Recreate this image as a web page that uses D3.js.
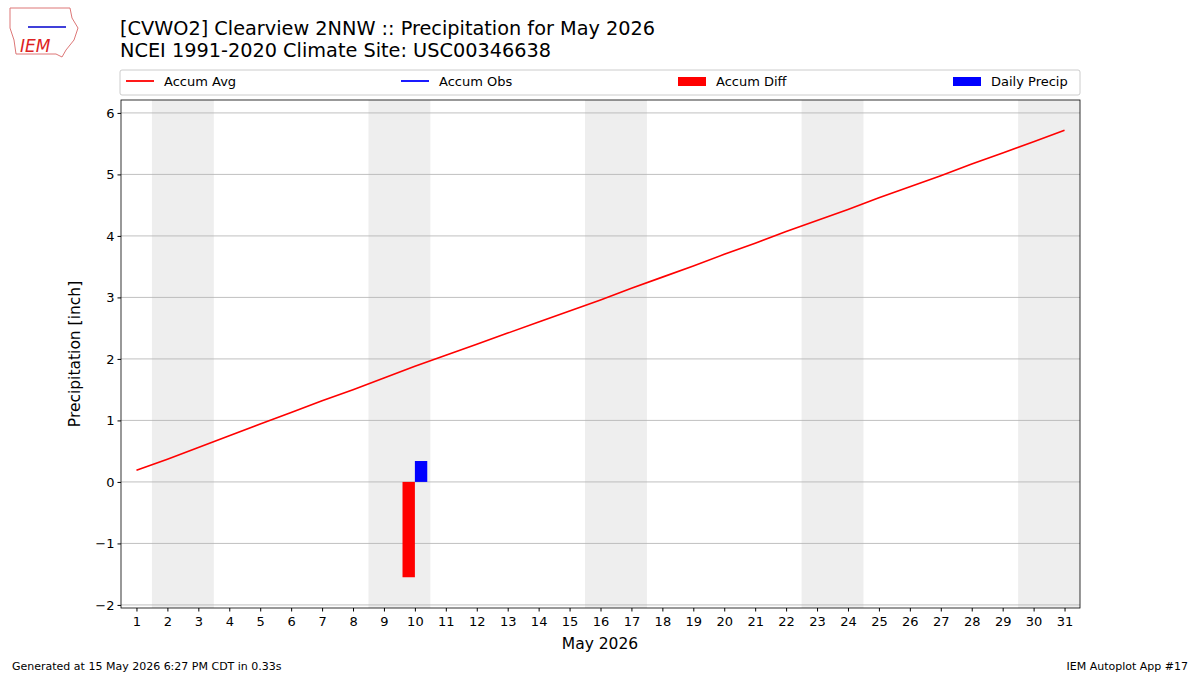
<!DOCTYPE html>
<html><head><meta charset="utf-8">
<script src="https://cdn.jsdelivr.net/npm/d3@7"></script>
<style>body{margin:0;background:#fff}text{font-family:"DejaVu Sans",sans-serif}</style>
</head><body><svg id="c" width="1200" height="675"></svg>
<script>
const days = d3.range(1,32);
const accumAvg = [0.19,0.37,0.56,0.75,0.94,1.13,1.32,1.50,1.69,1.88,2.06,2.24,2.42,2.60,2.78,2.96,3.15,3.33,3.51,3.70,3.88,4.07,4.25,4.43,4.62,4.80,4.98,5.17,5.35,5.53,5.72];
const diffDays = [10], accumDiff = [-1.55];
const precipDays = [10], dailyPrecip = [0.34];
const weekends = [[2,3],[9,10],[16,17],[23,24],[30,31]];
const yTicks = [-2,-1,0,1,2,3,4,5,6];

const svg = d3.select("#c");
const L=121,R=1080,T=100,B=608;
const x = d3.scaleLinear().domain([0.5,31.5]).range([L,R]);
const y = d3.scaleLinear().domain([-2.05,6.21]).range([B,T]);

weekends.forEach(w=>svg.append("rect").attr("x",x(w[0]-0.5)).attr("width",x(w[1]+0.5)-x(w[0]-0.5)).attr("y",T).attr("height",B-T).attr("fill","#eeeeee"));
yTicks.forEach(t=>svg.append("line").attr("x1",L).attr("x2",R).attr("y1",y(t)).attr("y2",y(t)).attr("stroke","#b0b0b0").attr("stroke-width",0.8));

const bw = 0.4;
svg.selectAll(".d").data(diffDays.map((d,i)=>[d,accumDiff[i]])).enter().append("rect")
 .attr("x",d=>x(d[0]-bw)).attr("width",x(bw)-x(0)).attr("y",d=>y(Math.max(0,d[1]))).attr("height",d=>Math.abs(y(d[1])-y(0))).attr("fill","red");
svg.selectAll(".p").data(precipDays.map((d,i)=>[d,dailyPrecip[i]])).enter().append("rect")
 .attr("x",d=>x(d[0])).attr("width",x(bw)-x(0)).attr("y",d=>y(d[1])).attr("height",d=>y(0)-y(d[1])).attr("fill","blue");

svg.append("path").datum(days.map((d,i)=>[d,accumAvg[i]])).attr("d",d3.line().x(d=>x(d[0])).y(d=>y(d[1]))).attr("fill","none").attr("stroke","red").attr("stroke-width",1.6);

svg.append("rect").attr("x",L).attr("y",T).attr("width",R-L).attr("height",B-T).attr("fill","none").attr("stroke","#000").attr("stroke-width",0.8);

const xa = svg.append("g").attr("transform",`translate(0,${B})`).call(d3.axisBottom(x).tickValues(days).tickFormat(d3.format("d")).tickSize(3.5).tickSizeOuter(0));
const ya = svg.append("g").attr("transform",`translate(${L},0)`).call(d3.axisLeft(y).tickValues(yTicks).tickFormat(d=>d<0?"\u2212"+(-d):d).tickSize(3.5).tickSizeOuter(0));
[xa,ya].forEach(a=>{a.select(".domain").remove();a.selectAll("text").attr("font-size",13).attr("fill","#000").attr("font-family","DejaVu Sans");});
xa.selectAll("text").attr("dy","0.9em");

svg.append("text").attr("x",600).attr("y",649).attr("text-anchor","middle").attr("font-size",15.5).text("May 2026");
svg.append("text").attr("transform","translate(80,354) rotate(-90)").attr("text-anchor","middle").attr("font-size",15.5).text("Precipitation [inch]");
svg.append("text").attr("x",120).attr("y",35).attr("font-size",19.3).text("[CVWO2] Clearview 2NNW :: Precipitation for May 2026");
svg.append("text").attr("x",120).attr("y",57).attr("font-size",19.3).text("NCEI 1991-2020 Climate Site: USC00346638");

// legend
svg.append("rect").attr("x",120).attr("y",70).attr("width",960).attr("height",25).attr("fill","#fff").attr("stroke","#ccc").attr("rx",2);
const leg=[["Accum Avg","red","line",126],["Accum Obs","blue","line",401],["Accum Diff","red","rect",678],["Daily Precip","blue","rect",953]];
leg.forEach(l=>{
 if(l[2]=="line") svg.append("line").attr("x1",l[3]).attr("x2",l[3]+28).attr("y1",81).attr("y2",81).attr("stroke",l[1]).attr("stroke-width",1.8);
 else svg.append("rect").attr("x",l[3]).attr("y",77).attr("width",28).attr("height",9).attr("fill",l[1]);
 svg.append("text").attr("x",l[3]+38).attr("y",86).attr("font-size",13).text(l[0]);
});
svg.append("text").attr("x",12).attr("y",670).attr("font-size",11).text("Generated at 15 May 2026 6:27 PM CDT in 0.33s");
svg.append("text").attr("x",1188).attr("y",670).attr("text-anchor","end").attr("font-size",11).text("IEM Autoplot App #17");
// logo
svg.append("path").attr("d","M10,8 L70,8 L72,18 L78,28 L74,40 L66,50 L62,57 L56,54 L16,54 L14,40 L10,28 Z").attr("fill","#fff").attr("stroke","#d77").attr("stroke-width",1);
svg.append("line").attr("x1",28).attr("x2",66).attr("y1",27).attr("y2",27).attr("stroke","#00c").attr("stroke-width",1.5);
svg.append("text").attr("x",20).attr("y",52).attr("font-size",17).attr("font-style","italic").attr("font-family","Liberation Serif").attr("fill","#d22").text("IEM");
</script></body></html>
